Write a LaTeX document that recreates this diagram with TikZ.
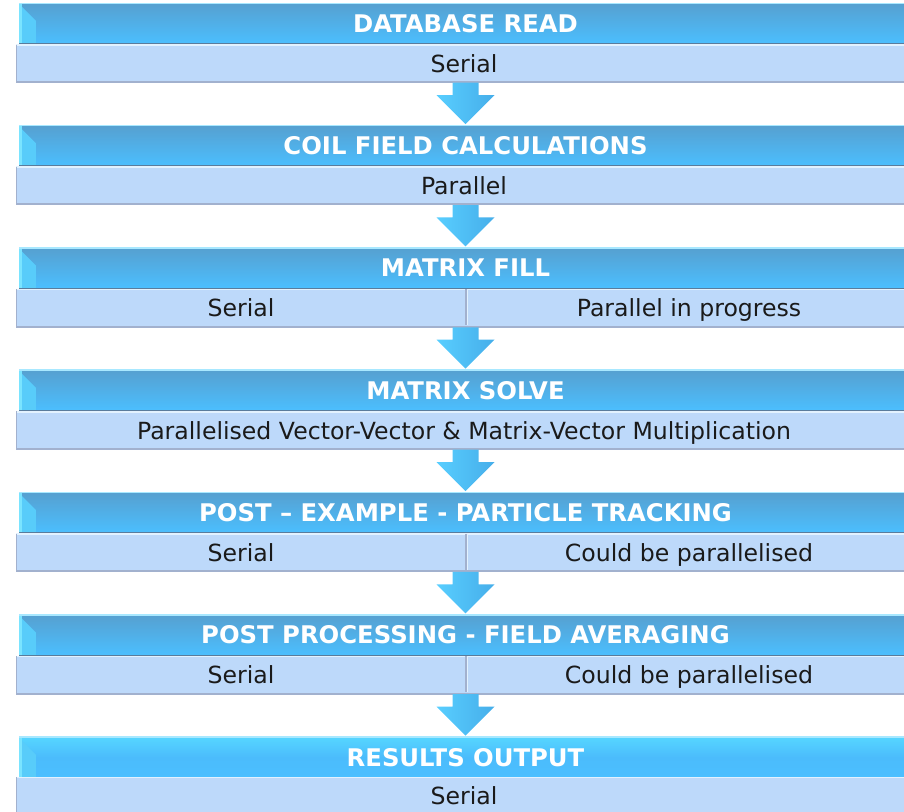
\documentclass[tikz,border=0pt]{standalone}
\usepackage{fontspec}
\setmainfont{DejaVu Sans}
\usetikzlibrary{calc}
\definecolor{hdrTop}{HTML}{56A0D0}
\definecolor{hdrMid}{HTML}{4BBCFC}
\definecolor{hdrBot}{HTML}{4BBFFF}
\definecolor{hdrTopB}{HTML}{56D6FF}
\definecolor{hdrLine}{HTML}{5A7C9C}
\definecolor{hdrHi}{HTML}{A8E8FF}
\definecolor{hdrBevel}{HTML}{7AE4FF}
\definecolor{hdrBevelB}{HTML}{58CCFA}
\definecolor{subFill}{HTML}{BDD9FA}
\definecolor{subHi}{HTML}{E2F2FF}
\definecolor{subLo}{HTML}{A2B1CE}
\definecolor{subTxt}{HTML}{1A1A1A}
\definecolor{arrL}{HTML}{58CEFF}
\definecolor{arrM}{HTML}{3592D2}
\definecolor{arrR}{HTML}{46AEEA}
\begin{document}
\begin{tikzpicture}[x=1pt,y=-1pt,
  hdrbar/.style={rectangle, minimum width=893pt, minimum height=41pt, inner sep=0pt,
    top color=hdrTop, middle color=hdrMid, bottom color=hdrBot,
    text=white, font=\bfseries\fontsize{24.3}{28}\selectfont,
    text height=17.5pt, text depth=0pt,
    path picture={
      \shade[left color=hdrBevelB, right color=hdrMid]
        ([xshift=3pt,yshift=-4pt]path picture bounding box.north west) -- ++(14pt,-14pt)
        -- ([xshift=17pt]path picture bounding box.south west)
        -- ([xshift=3pt]path picture bounding box.south west) -- cycle;
      \draw[hdrBevel, line width=3pt] ([xshift=1.5pt]path picture bounding box.north west)
        -- ([xshift=1.5pt]path picture bounding box.south west);
      \draw[hdrHi, line width=2pt] (path picture bounding box.north west) -- (path picture bounding box.north east);
      \draw[hdrLine, line width=2pt] (path picture bounding box.south west) -- (path picture bounding box.south east);
    }},
  subbar/.style={rectangle, minimum width=896pt, minimum height=38pt, inner sep=0pt,
    fill=subFill, text=subTxt, font=\fontsize{23.6}{28}\selectfont,
    text height=17.5pt, text depth=0pt,
    path picture={
      \draw[subHi, line width=2.5pt] (path picture bounding box.north west) -- (path picture bounding box.north east);
      \draw[subLo, line width=3pt] (path picture bounding box.south west) -- (path picture bounding box.south east);
      \draw[subLo, line width=2.5pt] (path picture bounding box.north west) -- (path picture bounding box.south west);
    }},
  subtext/.style={inner sep=0pt, text=subTxt, font=\fontsize{23.6}{28}\selectfont,
    text height=17.5pt, text depth=0pt},
  divider/.style={subLo, line width=1.5pt},
  dividerhi/.style={subHi, line width=1pt},
  flowarrow/.style={left color=arrL, middle color=arrM, right color=arrR}
]
\useasboundingbox (0,0) rectangle (904,811);
\clip (0,0) rectangle (904,811);

% rows
\node[hdrbar] (h1) at (465.5,23.5) {DATABASE READ};
\node[subbar] (s1) at (464,63.5) {Serial};

\node[hdrbar] (h2) at (465.5,145.8) {COIL FIELD CALCULATIONS};
\node[subbar] (s2) at (464,185.8) {Parallel};

\node[hdrbar] (h3) at (465.5,268.1) {MATRIX FILL};
\node[subbar] (s3) at (464,308.1) {};
\node[subtext] (s3a) at (241,308.1) {Serial};
\node[subtext] (s3b) at (689,308.1) {Parallel in progress};
\coordinate (d3) at (466,289.1);

\node[hdrbar] (h4) at (465.5,390.4) {MATRIX SOLVE};
\node[subbar] (s4) at (464,430.4) {Parallelised Vector-Vector \& Matrix-Vector Multiplication};

\node[hdrbar] (h5) at (465.5,512.7) {POST -- EXAMPLE - PARTICLE TRACKING};
\node[subbar] (s5) at (464,552.7) {};
\node[subtext] (s5a) at (241,552.7) {Serial};
\node[subtext] (s5b) at (689,552.7) {Could be parallelised};
\coordinate (d5) at (466,533.7);

\node[hdrbar] (h6) at (465.5,635) {POST PROCESSING - FIELD AVERAGING};
\node[subbar] (s6) at (464,675) {};
\node[subtext] (s6a) at (241,675) {Serial};
\node[subtext] (s6b) at (689,675) {Could be parallelised};
\coordinate (d6) at (466,656);

\node[hdrbar, top color=hdrTopB, middle color=hdrMid] (h7) at (465.5,757.3) {RESULTS OUTPUT};
\node[subbar] (s7) at (464,796) {Serial};

% dividers
\foreach \d in {d3,d5,d6}{
  \draw[divider] (\d) -- ++(0,36);
  \draw[dividerhi] ([xshift=1.5pt]\d) -- ++(0,36);
}

% block arrows
\foreach \a/\b in {s1/h2,s2/h3,s3/h4,s4/h5,s5/h6,s6/h7}{
  \shade[flowarrow] let \p1=(\b.north), \p2=(\a.south) in
    (\x1-13pt,\y2) -- (\x1+13pt,\y2) -- (\x1+13pt,\y1+30pt) -- (\x1+29pt,\y1+30pt)
    -- (\x1,\y1+1pt) -- (\x1-29pt,\y1+30pt) -- (\x1-13pt,\y1+30pt) -- cycle;
}
\end{tikzpicture}
\end{document}
